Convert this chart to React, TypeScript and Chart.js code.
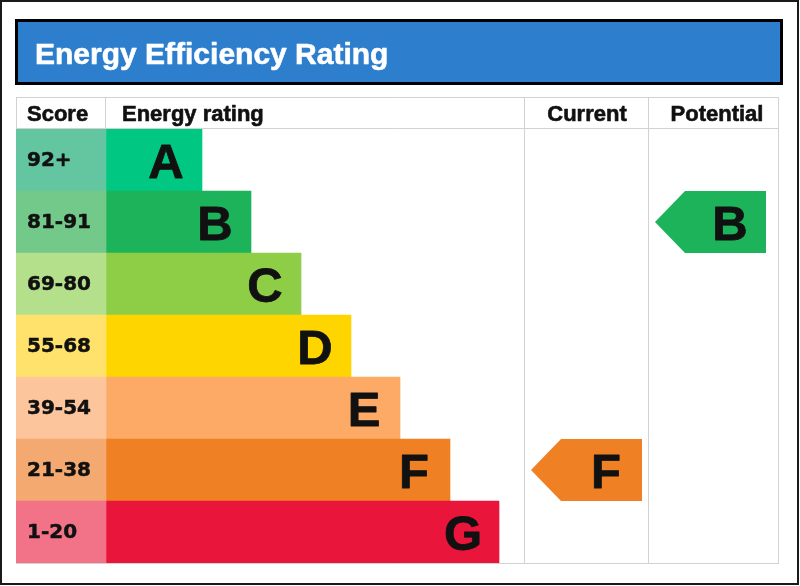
import React, { useEffect, useRef } from "react";
import { Chart, registerables } from "chart.js";

Chart.register(...registerables);

// ---------- data ----------
const titleText = "Energy Efficiency Rating";
const columnHeaders = ["Score", "Energy rating", "Current", "Potential"];
const ratings = ["A", "B", "C", "D", "E", "F", "G"];
const scoreRanges = ["92+", "81-91", "69-80", "55-68", "39-54", "21-38", "1-20"];
// length of each rating band (x units)
const bandLengths = [96, 145, 195, 245, 294, 344, 393];
const currentRating = "F";
const potentialRating = "B";

// ---------- style ----------
const scoreColors = ["#63c6a0", "#72c98a", "#b5e08b", "#fee26b", "#fdc59c", "#f3a96f", "#f27288"];
const bandColors = ["#00c781", "#1db35b", "#8dce46", "#ffd500", "#fcaa65", "#ef8023", "#e9153b"];
const TITLE_BLUE = "#2d7fcd";
const GRID = "#d2d2d2";
const INK = "#111111";

// ---------- layout (x units) ----------
const SCORE_COL = 90; // width of score column
const CURRENT_START = 418;
const POTENTIAL_START = 542;
const X_MAX = 672;
const ARROW_INSET = 7;
const ARROW_WIDTH = 111;

const LETTER_FONT = 'bold 49px "Liberation Sans", Arial, sans-serif';
const HEADER_FONT = 'bold 22px "Liberation Sans", Arial, sans-serif';
const SCORE_FONT = 'bold 20px "DejaVu Sans", Verdana, sans-serif';
const TITLE_FONT = 'bold 30px "Liberation Sans", Arial, sans-serif';

function heavyText(ctx: any, text: string, x: number, y: number, color: string, w: number) {
  ctx.fillStyle = color;
  ctx.fillText(text, x, y);
  if (w > 0) {
    ctx.strokeStyle = color;
    ctx.lineWidth = w;
    ctx.lineJoin = "round";
    ctx.strokeText(text, x, y);
  }
}

const epcPlugin = {
  id: "epc",
  beforeDraw(chart: any) {
    const { ctx, chartArea } = chart;
    const W = chart.width;
    const H = chart.height;
    const xs = chart.scales.x;
    ctx.save();
    ctx.fillStyle = "#ffffff";
    ctx.fillRect(0, 0, W, H);

    // outer frame
    ctx.strokeStyle = "#1a1a1a";
    ctx.lineWidth = 2;
    ctx.strokeRect(1, 1, W - 3, H - 3);

    // title box
    ctx.fillStyle = TITLE_BLUE;
    ctx.fillRect(16.5, 20.5, 765, 63);
    ctx.strokeStyle = "#000000";
    ctx.lineWidth = 3;
    ctx.strokeRect(16.5, 20.5, 765, 63);
    ctx.font = TITLE_FONT;
    ctx.textAlign = "left";
    ctx.textBaseline = "alphabetic";
    heavyText(ctx, titleText, 35, 64, "#ffffff", 0.6);

    // table grid
    const top = chartArea.top - 32;
    const left = chartArea.left;
    const right = chartArea.right;
    const bottom = chartArea.bottom;
    const xDiv = xs.getPixelForValue(0);
    const xCur = xs.getPixelForValue(CURRENT_START);
    const xPot = xs.getPixelForValue(POTENTIAL_START);
    ctx.strokeStyle = GRID;
    ctx.lineWidth = 1;
    ctx.beginPath();
    [top, chartArea.top - 1, bottom].forEach((y) => {
      ctx.moveTo(left, y + 0.5);
      ctx.lineTo(right + 1, y + 0.5);
    });
    [left, xDiv - 1, xCur, xPot, right].forEach((x) => {
      ctx.moveTo(x + 0.5, top);
      ctx.lineTo(x + 0.5, bottom + 1);
    });
    ctx.stroke();

    // headers
    ctx.font = HEADER_FONT;
    const hy = chartArea.top - 8;
    ctx.textAlign = "left";
    heavyText(ctx, columnHeaders[0], left + 11, hy, INK, 0.6);
    heavyText(ctx, columnHeaders[1], xDiv + 16, hy, INK, 0.6);
    ctx.textAlign = "center";
    heavyText(ctx, columnHeaders[2], (xCur + xPot) / 2 + 1, hy, INK, 0.6);
    heavyText(ctx, columnHeaders[3], (xPot + right) / 2 + 4, hy, INK, 0.6);
    ctx.restore();
  },
  afterDatasetsDraw(chart: any) {
    const { ctx, chartArea } = chart;
    ctx.save();
    ctx.textBaseline = "alphabetic";

    // score labels
    const scoreMeta = chart.getDatasetMeta(0);
    ctx.font = SCORE_FONT;
    ctx.textAlign = "left";
    scoreMeta.data.forEach((el: any, i: number) => {
      heavyText(ctx, scoreRanges[i], chartArea.left + 11, el.y + 5.5, INK, 0.5);
    });

    // band letters
    const bandMeta = chart.getDatasetMeta(1);
    ctx.font = LETTER_FONT;
    ctx.textAlign = "center";
    bandMeta.data.forEach((el: any, i: number) => {
      heavyText(ctx, ratings[i], el.x - 36, el.y + 17.5, INK, 0.8);
    });

    // arrows
    [2, 3].forEach((di) => {
      const meta = chart.getDatasetMeta(di);
      const data = chart.data.datasets[di].data;
      meta.data.forEach((el: any, i: number) => {
        if (data[i] == null) return;
        const l = Math.min(el.x, el.base);
        const r = Math.max(el.x, el.base);
        const h = el.height;
        const t = el.y - h / 2;
        const b = el.y + h / 2;
        const notch = h / 2 - 1;
        ctx.fillStyle = bandColors[i];
        ctx.beginPath();
        ctx.moveTo(l, el.y);
        ctx.lineTo(l + notch, t);
        ctx.lineTo(r, t);
        ctx.lineTo(r, b);
        ctx.lineTo(l + notch, b);
        ctx.closePath();
        ctx.fill();
        ctx.font = LETTER_FONT;
        ctx.textAlign = "center";
        heavyText(ctx, ratings[i], r - 36, el.y + 17.5, INK, 0.8);
      });
    });
    ctx.restore();
  },
};

function arrowData(rating: string, colStart: number) {
  return ratings.map((r) =>
    r === rating ? [colStart + ARROW_INSET, colStart + ARROW_INSET + ARROW_WIDTH] : null
  );
}

export default function App() {
  const canvasRef = useRef<HTMLCanvasElement | null>(null);

  useEffect(() => {
    document.body.style.margin = "0";
    const canvas = canvasRef.current;
    if (!canvas) return;
    const common = {
      grouped: false,
      barPercentage: 1,
      categoryPercentage: 1,
      borderWidth: 0,
    };
    const chart = new Chart(canvas, {
      type: "bar",
      data: {
        labels: ratings,
        datasets: [
          {
            label: "Score",
            data: ratings.map(() => [-SCORE_COL, 0]),
            backgroundColor: scoreColors,
            ...common,
          },
          {
            label: "Energy rating",
            data: bandLengths.map((v) => [0, v]),
            backgroundColor: bandColors,
            ...common,
          },
          {
            label: "Current",
            data: arrowData(currentRating, CURRENT_START),
            backgroundColor: "rgba(0,0,0,0)",
            ...common,
          },
          {
            label: "Potential",
            data: arrowData(potentialRating, POTENTIAL_START),
            backgroundColor: "rgba(0,0,0,0)",
            ...common,
          },
        ],
      } as any,
      options: {
        indexAxis: "y",
        responsive: false,
        animation: false,
        devicePixelRatio: 1,
        layout: { padding: { left: 16, right: 22, top: 129, bottom: 23 } },
        scales: {
          x: { type: "linear", min: -SCORE_COL, max: X_MAX, display: false },
          y: { type: "category", display: false, offset: true },
        },
        plugins: {
          legend: { display: false },
          tooltip: { enabled: false },
          title: { display: false },
        },
      } as any,
      plugins: [epcPlugin],
    });
    return () => chart.destroy();
  }, []);

  return (
    <div style={{ width: 800, height: 586 }}>
      <canvas ref={canvasRef} width={800} height={586} style={{ display: "block" }} />
    </div>
  );
}
